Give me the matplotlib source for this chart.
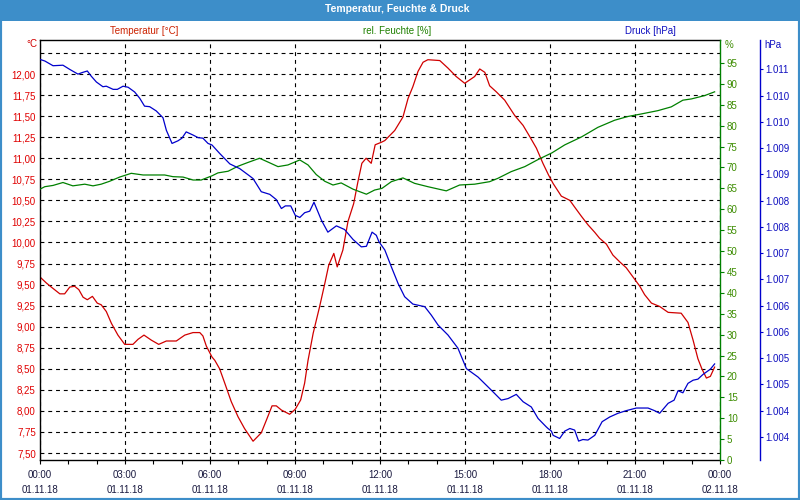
import matplotlib
matplotlib.use("Agg")
import matplotlib.pyplot as plt
from matplotlib.patches import Rectangle
from matplotlib.ticker import FixedLocator, MultipleLocator, FuncFormatter

plt.rcParams["font.family"] = ["Liberation Sans", "DejaVu Sans"]

# hours since 01.11.18 00:00
TEMP_H = [0.0, 0.22, 0.40, 0.70, 0.87, 1.05, 1.22, 1.37, 1.52, 1.67, 1.85, 2.02, 2.16, 2.34,
          2.52, 2.75, 2.99, 3.28, 3.46, 3.67, 3.93, 4.19, 4.46, 4.81, 5.11, 5.40, 5.64, 5.75,
          5.87, 6.07, 6.17, 6.34, 6.52, 6.75, 6.99, 7.22, 7.52, 7.81, 7.99, 8.19, 8.34, 8.52,
          8.81, 9.01, 9.20, 9.34, 9.46, 9.64, 9.87, 10.05, 10.19, 10.37, 10.49, 10.69, 10.87,
          11.07, 11.22, 11.36, 11.51, 11.69, 11.83, 12.05, 12.17, 12.52, 12.81, 12.99, 13.16,
          13.34, 13.52, 13.69, 14.11, 14.40, 14.69, 14.99, 15.34, 15.52, 15.70, 15.87, 16.10,
          16.40, 16.75, 17.05, 17.28, 17.52, 17.75, 17.95, 18.11, 18.40, 18.70, 18.87, 19.11,
          19.34, 19.58, 19.75, 19.99, 20.22, 20.46, 20.69, 20.93, 21.17, 21.34, 21.58, 21.87,
          22.17, 22.63, 22.87, 23.05, 23.22, 23.36, 23.52, 23.66, 23.81]
TEMP = [9.59, 9.52, 9.47, 9.39, 9.39, 9.47, 9.48, 9.44, 9.35, 9.32, 9.36, 9.28, 9.26, 9.18,
        9.04, 8.90, 8.79, 8.79, 8.85, 8.90, 8.84, 8.79, 8.83, 8.83, 8.90, 8.93, 8.93, 8.89,
        8.77, 8.64, 8.60, 8.50, 8.33, 8.11, 7.93, 7.79, 7.64, 7.74, 7.89, 8.06, 8.06, 8.01,
        7.96, 8.02, 8.13, 8.33, 8.60, 8.92, 9.24, 9.51, 9.73, 9.87, 9.71, 9.91, 10.25,
        10.46, 10.72, 10.94, 11.00, 10.94, 11.16, 11.19, 11.21, 11.33, 11.49, 11.71, 11.85,
        12.03, 12.14, 12.17, 12.16, 12.07, 11.97, 11.89, 11.97, 12.06, 12.02, 11.86, 11.79,
        11.69, 11.51, 11.39, 11.26, 11.12, 10.94, 10.80, 10.70, 10.55, 10.50, 10.42, 10.31,
        10.21, 10.12, 10.05, 9.98, 9.85, 9.77, 9.70, 9.59, 9.48, 9.38, 9.28, 9.24,
        9.17, 9.16, 9.05, 8.84, 8.62, 8.50, 8.39, 8.41, 8.52]

HUM_H = [0.0, 0.17, 0.46, 0.81, 1.16, 1.58, 1.87, 2.16, 2.46, 2.81, 3.22, 3.64, 4.40, 4.69,
         5.05, 5.40, 5.69, 6.07, 6.28, 6.64, 6.99, 7.34, 7.75, 8.11, 8.40, 8.75, 9.17, 9.46,
         9.75, 10.05, 10.34, 10.63, 11.05, 11.52, 11.81, 12.07, 12.40, 12.81, 13.22, 13.69,
         14.34, 14.81, 15.34, 15.87, 16.16, 16.63, 17.11, 17.58, 18.07, 18.52, 19.11, 19.69,
         20.28, 20.75, 21.22, 21.81, 22.28, 22.69, 22.99, 23.46, 23.81]
HUM = [64.8, 65.4, 65.7, 66.4, 65.6, 66.0, 65.6, 66.0, 66.7, 67.7, 68.6, 68.2, 68.2, 67.8,
       67.7, 67.0, 67.0, 68.0, 68.7, 69.1, 70.3, 71.2, 72.2, 71.1, 70.2, 70.6, 71.8, 70.6,
       68.3, 66.7, 65.8, 66.3, 64.8, 63.6, 64.6, 65.0, 66.6, 67.5, 66.2, 65.4,
       64.4, 65.8, 66.0, 66.6, 67.4, 69.0, 70.2, 71.9, 73.5, 75.4, 77.3, 79.6,
       81.3, 82.2, 82.8, 83.6, 84.5, 86.1, 86.4, 87.2, 88.1]

PRES_H = [0.0, 0.17, 0.46, 0.81, 1.05, 1.34, 1.49, 1.67, 1.81, 1.99, 2.22, 2.34, 2.58, 2.73,
          2.93, 3.11, 3.34, 3.52, 3.69, 3.87, 4.10, 4.34, 4.46, 4.66, 4.87, 5.01, 5.16, 5.40,
          5.58, 5.75, 5.93, 6.07, 6.34, 6.70, 7.05, 7.40, 7.52, 7.81, 8.11, 8.34, 8.52, 8.66,
          8.85, 9.01, 9.17, 9.34, 9.52, 9.67, 9.93, 10.16, 10.46, 10.75, 11.05, 11.34, 11.52,
          11.72, 11.87, 11.96, 12.17, 12.40, 12.64, 12.87, 13.16, 13.58, 13.81, 14.05, 14.40,
          14.75, 15.05, 15.46, 15.93, 16.28, 16.52, 16.81, 17.05, 17.34, 17.58, 17.87, 17.93,
          18.05, 18.11, 18.34, 18.52, 18.70, 18.87, 19.01, 19.16, 19.34, 19.58, 19.84, 20.11,
          20.40, 20.69, 21.05, 21.46, 21.69, 21.87, 22.17, 22.38, 22.52, 22.69, 22.87, 23.05,
          23.22, 23.40, 23.66, 23.81]
PRES = [1011.19, 1011.16, 1011.07, 1011.08, 1011.00, 1010.91, 1010.94, 1010.97, 1010.87,
        1010.76, 1010.67, 1010.68, 1010.62, 1010.62, 1010.68, 1010.66, 1010.57, 1010.45,
        1010.30, 1010.29, 1010.21, 1010.08, 1009.84, 1009.59, 1009.64, 1009.69, 1009.81,
        1009.75, 1009.70, 1009.69, 1009.59, 1009.56, 1009.40, 1009.20, 1009.11, 1008.97,
        1008.92, 1008.67, 1008.62, 1008.52, 1008.35, 1008.40, 1008.40, 1008.22, 1008.18,
        1008.27, 1008.30, 1008.47, 1008.13, 1007.90, 1008.02, 1007.95, 1007.76, 1007.62,
        1007.63, 1007.90, 1007.84, 1007.72, 1007.56, 1007.24, 1006.92, 1006.67, 1006.53,
        1006.48, 1006.32, 1006.13, 1005.94, 1005.69, 1005.30, 1005.14, 1004.89, 1004.70,
        1004.73, 1004.81, 1004.67, 1004.57, 1004.35, 1004.19, 1004.16, 1004.11, 1004.03,
        1003.97, 1004.11, 1004.16, 1004.13, 1003.92, 1003.95, 1003.94, 1004.03, 1004.29,
        1004.38, 1004.45, 1004.50, 1004.55, 1004.55, 1004.50, 1004.45, 1004.64, 1004.70,
        1004.88, 1004.84, 1005.02, 1005.08, 1005.10, 1005.19, 1005.29, 1005.39]

X_TICKS = [0, 3, 6, 9, 12, 15, 18, 21, 24]
X_LABELS = ["00:00\n01.11.18", "03:00\n01.11.18", "06:00\n01.11.18", "09:00\n01.11.18",
            "12:00\n01.11.18", "15:00\n01.11.18", "18:00\n01.11.18", "21:00\n01.11.18",
            "00:00\n02.11.18"]
TEMP_TICKS = [7.50, 7.75, 8.00, 8.25, 8.50, 8.75, 9.00, 9.25, 9.50, 9.75, 10.00, 10.25,
              10.50, 10.75, 11.00, 11.25, 11.50, 11.75, 12.00]
HUM_TICKS = [0, 5, 10, 15, 20, 25, 30, 35, 40, 45, 50, 55, 60, 65, 70, 75, 80, 85, 90, 95]
PRES_TICKS = [1004.0, 1004.5, 1005.0, 1005.5, 1006.0, 1006.5, 1007.0, 1007.5, 1008.0,
              1008.5, 1009.0, 1009.5, 1010.0, 1010.5, 1011.0]

TITLE = "Temperatur, Feuchte & Druck"
BAR = "#3d8ec9"
RED = "#d00000"
GREEN = "#008000"
BLUE = "#0000cc"
FS = 7


def main():
    fig = plt.figure(figsize=(8, 5), dpi=100)
    fig.patches.append(Rectangle((0, 0.958), 1, 0.042, transform=fig.transFigure,
                                 facecolor=BAR, edgecolor="none"))
    fig.patches.append(Rectangle((0, 0), 1, 1, transform=fig.transFigure, fill=False,
                                 edgecolor=BAR, lw=3))
    fig.text(0.497, 0.981, TITLE, color="white", fontsize=7.5, fontweight="bold",
             ha="center", va="center")
    fig.text(0.18, 0.938, "Temperatur [°C]", color="#cc2200", fontsize=FS, ha="center", va="center")
    fig.text(0.496, 0.938, "rel. Feuchte [%]", color="#1f8000", fontsize=FS, ha="center", va="center")
    fig.text(0.8125, 0.938, "Druck [hPa]", color="#1010c0", fontsize=FS, ha="center", va="center")
    fig.text(0.047, 0.912, "°C", color=RED, fontsize=FS, ha="right", va="center")
    fig.text(0.906, 0.91, "%", color="#3c8c00", fontsize=FS, ha="left", va="center")
    fig.text(0.955, 0.91, "hPa", color="#1010c0", fontsize=FS, ha="left", va="center")

    ax = fig.add_axes([0.05, 0.08, 0.85, 0.84])
    ax.plot(TEMP_H, TEMP, color=RED, lw=0.9)
    ax.set_xlim(0, 24)
    ax.set_ylim(7.417, 12.404)
    ax.yaxis.set_major_locator(FixedLocator(TEMP_TICKS))
    ax.yaxis.set_major_formatter(FuncFormatter(lambda v, p: f"{v:.2f}".replace(".", ",")))
    ax.yaxis.set_minor_locator(FixedLocator([12.25]))
    ax.tick_params(axis="y", which="both", length=0, pad=3, labelsize=FS, labelcolor="#e00000")
    ax.set_xticks(X_TICKS)
    ax.set_xticklabels(X_LABELS, linespacing=1.7)
    ax.xaxis.set_minor_locator(MultipleLocator(1))
    ax.tick_params(axis="x", which="both", direction="out", length=3, width=0.8,
                   labelsize=FS, labelcolor="#1a1a40", pad=4)
    ax.grid(True, axis="y", which="both", color="black", lw=0.8, linestyle=(0, (3.5, 3.5)))
    ax.grid(True, axis="x", which="major", color="black", lw=0.8, linestyle=(0, (3.5, 3.5)))
    for s in ("left", "top", "bottom"):
        ax.spines[s].set_linewidth(1.0)
    ax.spines["right"].set_visible(False)

    ax2 = ax.twinx()
    ax2.plot(HUM_H, HUM, color=GREEN, lw=0.9)
    ax2.set_ylim(0, 100.5)
    ax2.set_yticks(HUM_TICKS)
    ax2.tick_params(axis="y", direction="out", length=3, width=0.8, color=GREEN,
                    labelsize=FS, labelcolor="#3c8c00", pad=2)
    ax2.spines["right"].set_color(GREEN)
    ax2.spines["right"].set_linewidth(1.0)
    for s in ("left", "top", "bottom"):
        ax2.spines[s].set_visible(False)

    ax3 = ax.twinx()
    ax3.plot(PRES_H, PRES, color=BLUE, lw=0.9)
    ax3.set_ylim(1003.56, 1011.56)
    ax3.set_yticks(PRES_TICKS)
    ax3.yaxis.set_major_formatter(FuncFormatter(
        lambda v, p: f"{int(v) // 1000}.{int(v) % 1000:03d}"))
    ax3.spines["right"].set_position(("axes", 1.0588))
    ax3.spines["right"].set_color(BLUE)
    ax3.spines["right"].set_linewidth(1.0)
    for s in ("left", "top", "bottom"):
        ax3.spines[s].set_visible(False)
    ax3.tick_params(axis="y", direction="out", length=2, width=0.8, color=BLUE,
                    labelsize=FS, labelcolor="#1010c0", pad=2)

    ax.set_xlim(0, 24)
    fig.savefig("out.png", dpi=100)
    plt.close(fig)


if __name__ == "__main__":
    main()
